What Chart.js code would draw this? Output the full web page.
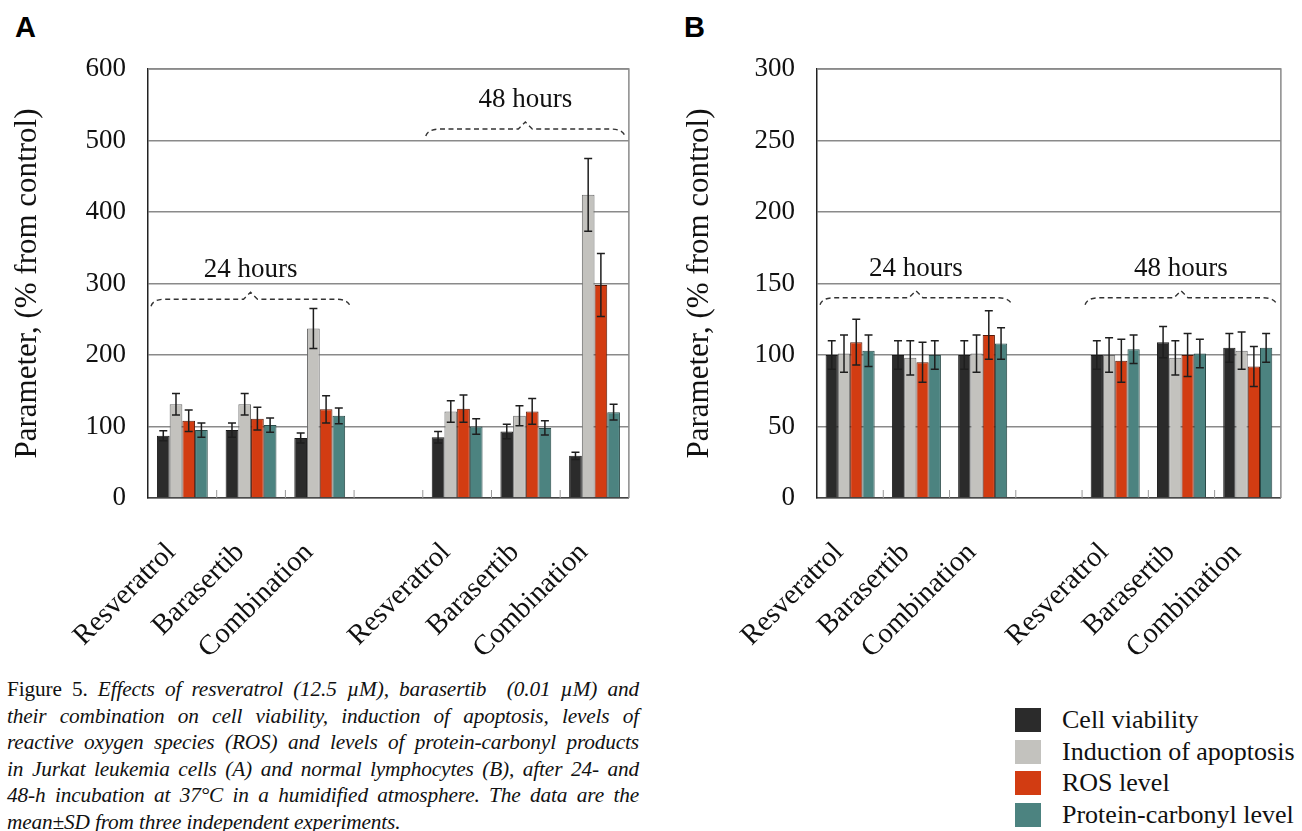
<!DOCTYPE html>
<html>
<head>
<meta charset="utf-8">
<script src="https://cdn.jsdelivr.net/npm/chart.js@4.4.1/dist/chart.umd.min.js"></script>
<style>
  body { margin: 0; background: #fff; width: 1302px; height: 831px; position: relative; overflow: hidden; }
  canvas { position: absolute; top: 0; }
  #chartA { left: 0; }
  #chartB { left: 668px; }
  .panel-letter { position: absolute; top: 11px; font: bold 29px "Liberation Sans", Arial, sans-serif; }
  .caption { position: absolute; left: 7px; top: 676px; width: 632px; font: 21.3px "Liberation Serif", "Times New Roman", serif; letter-spacing: -0.15px; line-height: 26.6px; color: #111; }
  .caption div { text-align: justify; text-align-last: justify; height: 26.6px; }
  .caption div.last { text-align-last: left; }
  .legend { position: absolute; left: 1015px; top: 705px; font: 26px "Liberation Serif", "Times New Roman", serif; color: #111; }
  .legend .row { position: relative; height: 31.5px; }
  .legend .box { position: absolute; left: 0; top: 3px; width: 26px; height: 24px; }
  .legend .txt { position: absolute; left: 47px; top: 0; line-height: 30px; white-space: nowrap; }
</style>
</head>
<body>
<div class="panel-letter" style="left:15px;">A</div>
<div class="panel-letter" style="left:684px;">B</div>
<canvas id="chartA" width="650" height="670"></canvas>
<canvas id="chartB" width="634" height="670"></canvas>

<div class="caption">
  <div>Figure 5. <i>Effects of resveratrol (12.5 µM), barasertib&nbsp; (0.01 µM) and</i></div>
  <div><i>their combination on cell viability, induction of apoptosis, levels of</i></div>
  <div><i>reactive oxygen species (ROS) and levels of protein-carbonyl products</i></div>
  <div><i>in Jurkat leukemia cells (A) and normal lymphocytes (B), after 24-&#8288;&nbsp;and</i></div>
  <div><i>48-h incubation at 37°C in a humidified atmosphere. The data are the</i></div>
  <div class="last"><i>mean±SD from three independent experiments.</i></div>
</div>

<div class="legend" id="legend"></div>

<script>
// --- Data ---
const categories = ['Resveratrol', 'Barasertib', 'Combination', '', 'Resveratrol', 'Barasertib', 'Combination'];
const seriesNames = ['Cell viability', 'Induction of apoptosis', 'ROS level', 'Protein-carbonyl level'];
const timeLabels = ['24 hours', '48 hours'];

// Panel A: Jurkat leukemia cells
const viabilityA = [87, 95, 84, null, 85, 93, 59];
const apoptosisA = [131, 131, 237, null, 121, 115, 424];
const rosA = [108, 111, 124, null, 125, 121, 298];
const carbonylA = [95, 102, 115, null, 100, 98, 120];
const viabilitySdA = [7, 10, 7, null, 8, 10, 5];
const apoptosisSdA = [15, 15, 28, null, 15, 14, 51];
const rosSdA = [15, 16, 19, null, 19, 18, 44];
const carbonylSdA = [10, 10, 11, null, 11, 10, 11];
const yTicksA = [0, 100, 200, 300, 400, 500, 600];

// Panel B: normal lymphocytes
const viabilityB = [100, 100, 100, null, 100, 109, 105];
const apoptosisB = [101, 98, 101, null, 100, 98, 103];
const rosB = [109, 95, 114, null, 96, 100, 92];
const carbonylB = [103, 100, 108, null, 104, 101, 105];
const viabilitySdB = [10, 10, 10, null, 10, 11, 10];
const apoptosisSdB = [13, 12, 13, null, 12, 12, 13];
const rosSdB = [16, 14, 17, null, 15, 15, 14];
const carbonylSdB = [11, 10, 11, null, 10, 10, 10];
const yTicksB = [0, 50, 100, 150, 200, 250, 300];

const colors = ['#2b2b2b', '#c3c2be', '#d23c12', '#4c8380'];
const borders = ['#1a1a1a', '#6a6a6a', '#5a1a08', '#2a4a48'];
const serif = '"Liberation Serif", "Times New Roman", serif';

// --- Error bars, frame, minor ticks ---
const errorBars = {
    id: 'errorBars',
    afterDatasetsDraw(chart) {
        const ctx = chart.ctx;
        const y = chart.scales.y;
        ctx.save();
        ctx.strokeStyle = '#1e1e1e';
        ctx.lineWidth = 1.5;
        chart.data.datasets.forEach((ds, i) => {
            const meta = chart.getDatasetMeta(i);
            meta.data.forEach((bar, j) => {
                const v = ds.data[j], sd = ds.sd[j];
                if (v == null) return;
                const yTop = y.getPixelForValue(v + sd);
                const yBot = y.getPixelForValue(v - sd);
                ctx.beginPath();
                ctx.moveTo(bar.x, yTop); ctx.lineTo(bar.x, yBot);
                ctx.moveTo(bar.x - 4, yTop); ctx.lineTo(bar.x + 4, yTop);
                ctx.moveTo(bar.x - 4, yBot); ctx.lineTo(bar.x + 4, yBot);
                ctx.stroke();
            });
        });
        ctx.restore();
    },
    beforeDatasetsDraw(chart) {
        const ctx = chart.ctx;
        const area = chart.chartArea;
        const x = chart.scales.x;
        ctx.save();
        ctx.strokeStyle = '#8a8a8a';
        ctx.lineWidth = 1.5;
        ctx.beginPath();
        ctx.moveTo(area.left, area.top); ctx.lineTo(area.right, area.top);
        ctx.lineTo(area.right, area.bottom);
        ctx.stroke();
        // short marks between categories
        ctx.lineWidth = 1;
        ctx.strokeStyle = '#999';
        for (let i = 1; i < categories.length; i++) {
            const px = (x.getPixelForValue(i - 1) + x.getPixelForValue(i)) / 2;
            ctx.beginPath();
            ctx.moveTo(px, area.bottom); ctx.lineTo(px, area.bottom - 8);
            ctx.stroke();
        }
        ctx.restore();
    }
};

// --- Dashed braces with time labels ---
const braces = {
    id: 'braces',
    afterDraw(chart, args, opts) {
        const ctx = chart.ctx;
        const x = chart.scales.x, y = chart.scales.y;
        const half = (x.getPixelForValue(1) - x.getPixelForValue(0)) / 2;
        ctx.save();
        opts.items.forEach(b => {
            const x0 = x.getPixelForValue(b.from) - half + 3;
            const x1 = x.getPixelForValue(b.to) + half - 4;
            const xm = (x0 + x1) / 2;
            const yb = y.getPixelForValue(b.at);
            ctx.strokeStyle = '#333';
            ctx.lineWidth = 1.4;
            ctx.setLineDash([5, 3.5]);
            ctx.beginPath();
            ctx.moveTo(x0, yb + 7);
            ctx.quadraticCurveTo(x0 + 2, yb, x0 + 14, yb);
            ctx.lineTo(xm - 7, yb);
            ctx.lineTo(xm, yb - 7);
            ctx.lineTo(xm + 7, yb);
            ctx.lineTo(x1 - 14, yb);
            ctx.quadraticCurveTo(x1 - 2, yb, x1, yb + 7);
            ctx.stroke();
            ctx.setLineDash([]);
            ctx.fillStyle = '#111';
            ctx.font = '27px ' + serif;
            ctx.textAlign = 'center';
            ctx.textBaseline = 'alphabetic';
            ctx.fillText(b.text, xm, yb - 22);
        });
        ctx.restore();
    }
};

function makePanel(canvasId, values, sds, yTicks, axisWidth, titlePad, braceItems) {
    const canvas = document.getElementById(canvasId);
    return new Chart(canvas.getContext('2d'), {
        type: 'bar',
        data: {
            labels: categories,
            datasets: values.map((vals, i) => ({
                label: seriesNames[i],
                data: vals,
                sd: sds[i],
                backgroundColor: colors[i],
                borderColor: borders[i],
                borderWidth: 1,
                categoryPercentage: 0.74,
                barPercentage: 1.0
            }))
        },
        options: {
            responsive: false,
            animation: false,
            layout: { padding: { top: 69, right: canvas.width - (canvasId === 'chartA' ? 632 : 633), left: 0, bottom: 0 } },
            plugins: {
                legend: { display: false },
                tooltip: { enabled: false },
                braces: { items: braceItems }
            },
            scales: {
                x: {
                    grid: { display: false },
                    border: { color: '#444', width: 1.5 },
                    ticks: {
                        autoSkip: false, maxRotation: 45, minRotation: 45,
                        color: '#111', padding: 30, labelOffset: -11,
                        font: { family: serif, size: 28.5 }
                    },
                    afterFit: scale => { scale.height = canvas.height - 498; }
                },
                y: {
                    min: 0,
                    max: yTicks[yTicks.length - 1],
                    afterBuildTicks: scale => { scale.ticks = yTicks.map(v => ({ value: v })); },
                    grid: { color: '#8a8a8a', lineWidth: 1.5, drawTicks: false },
                    border: { color: '#222', width: 1.5 },
                    ticks: { color: '#111', padding: 22, font: { family: serif, size: 27 } },
                    title: {
                        display: true, text: 'Parameter, (% from control)', color: '#111',
                        font: { family: serif, size: 31 }, padding: { top: titlePad, bottom: 0 }
                    },
                    afterFit: scale => { scale.width = axisWidth; }
                }
            }
        },
        plugins: [errorBars, braces]
    });
}

makePanel('chartA',
    [viabilityA, apoptosisA, rosA, carbonylA],
    [viabilitySdA, apoptosisSdA, rosSdA, carbonylSdA],
    yTicksA, 148, 9,
    [{ from: 0, to: 2, at: 278, text: timeLabels[0] }, { from: 4, to: 6, at: 516, text: timeLabels[1] }]);

makePanel('chartB',
    [viabilityB, apoptosisB, rosB, carbonylB],
    [viabilitySdB, apoptosisSdB, rosSdB, carbonylSdB],
    yTicksB, 149, 13,
    [{ from: 0, to: 2, at: 140, text: timeLabels[0] }, { from: 4, to: 6, at: 140, text: timeLabels[1] }]);

// --- Legend ---
const legend = document.getElementById('legend');
seriesNames.forEach((name, i) => {
    const row = document.createElement('div');
    row.className = 'row';
    row.innerHTML = `<div class="box" style="background:${colors[i]}"></div><div class="txt">${name}</div>`;
    legend.appendChild(row);
});
</script>
</body>
</html>
